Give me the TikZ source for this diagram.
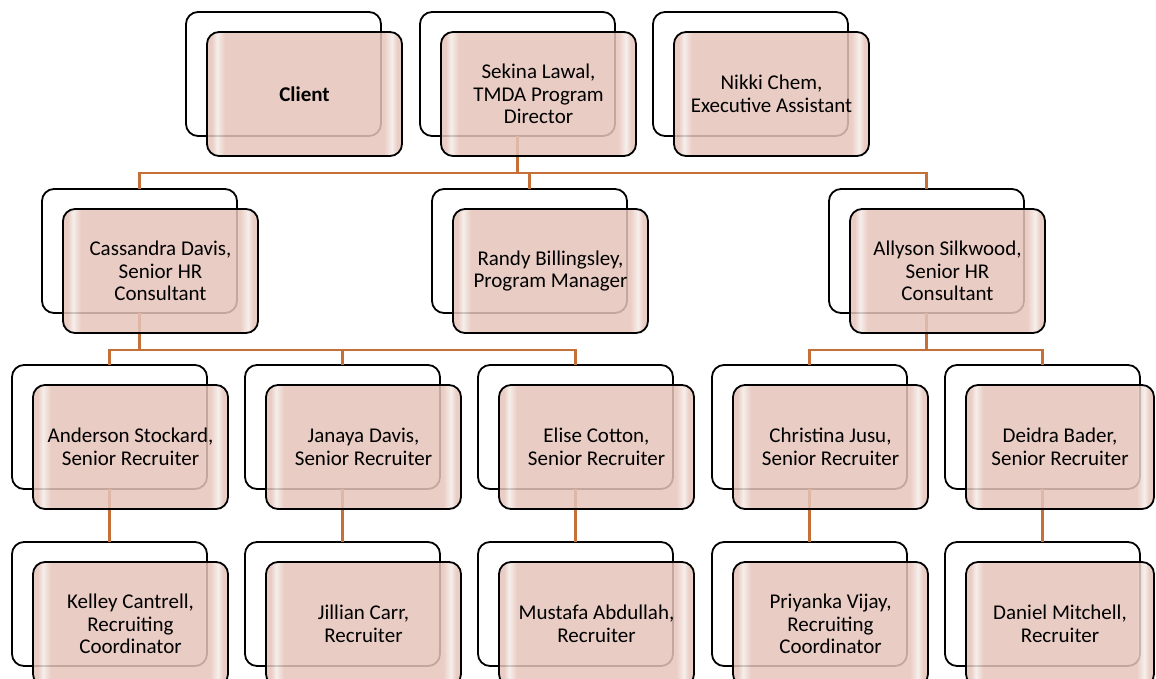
\documentclass[tikz,border=0pt]{standalone}
\usepackage{fontspec}
\setmainfont{Carlito}
\usetikzlibrary{calc}
\definecolor{pk}{RGB}{230,196,186}
\definecolor{pkL}{RGB}{245,236,232}
\definecolor{connc}{RGB}{196,112,56}
\pgfdeclarehorizontalshading{frontshade}{100bp}{color(0bp)=(pk); color(26.2bp)=(pk); color(27.6bp)=(pkL); color(29.6bp)=(pk); color(70.4bp)=(pk); color(72.4bp)=(pkL); color(73.8bp)=(pk); color(100bp)=(pk)}
\begin{document}
\begin{tikzpicture}[x=1pt,y=-1pt,
 backbox/.style={draw=black, line width=1.8pt, fill=white, rounded corners=12pt, minimum width=195pt, minimum height=124pt, inner sep=0pt, outer sep=0pt, anchor=north west},
 frontbox/.style={draw=black, line width=1.8pt, shading=frontshade, fill opacity=0.85, text opacity=1, rounded corners=12pt, minimum width=195pt, minimum height=124pt, inner sep=0pt, outer sep=0pt, align=center, font=\fontsize{21}{22.7}\selectfont, text=black, anchor=north west},
 conn/.style={draw=connc, line width=2.6pt}]
\useasboundingbox (0,0) rectangle (1156,679);
\clip (0,0) rectangle (1156,679);
% back boxes
\node[backbox] (bclient) at (186,12) {};
\node[backbox] (bsekina) at (420,12) {};
\node[backbox] (bnikki) at (653,12) {};
\node[backbox] (bcassandra) at (42,189) {};
\node[backbox] (brandy) at (432,189) {};
\node[backbox] (ballyson) at (829,189) {};
\node[backbox] (banderson) at (12,365) {};
\node[backbox] (bjanaya) at (245,365) {};
\node[backbox] (belise) at (478,365) {};
\node[backbox] (bchristina) at (712,365) {};
\node[backbox] (bdeidra) at (945,365) {};
\node[backbox] (bkelley) at (12,542) {};
\node[backbox] (bjillian) at (245,542) {};
\node[backbox] (bmustafa) at (478,542) {};
\node[backbox] (bpriyanka) at (712,542) {};
\node[backbox] (bdaniel) at (945,542) {};
% connectors
\coordinate (bus1) at (0,173);
\coordinate (bus2) at (0,350);
\draw[conn] (bsekina.south) -- (bsekina.south |- bus1);
\draw[conn] (bcassandra.north) -- (bcassandra.north |- bus1) -- (ballyson.north |- bus1) -- (ballyson.north);
\draw[conn] (brandy.north) -- (brandy.north |- bus1);
\draw[conn] (bcassandra.south) -- (bcassandra.south |- bus2);
\draw[conn] (banderson.north) -- (banderson.north |- bus2) -- (belise.north |- bus2) -- (belise.north);
\draw[conn] (bjanaya.north) -- (bjanaya.north |- bus2);
\draw[conn] (ballyson.south) -- (ballyson.south |- bus2);
\draw[conn] (bchristina.north) -- (bchristina.north |- bus2) -- (bdeidra.north |- bus2) -- (bdeidra.north);
\draw[conn] (banderson.south) -- (bkelley.north);
\draw[conn] (bjanaya.south) -- (bjillian.north);
\draw[conn] (belise.south) -- (bmustafa.north);
\draw[conn] (bchristina.south) -- (bpriyanka.north);
\draw[conn] (bdeidra.south) -- (bdaniel.north);
% front boxes
\node[frontbox] (client) at ($(bclient.north west)+(21,20)$) {\bfseries Client};
\node[frontbox] (sekina) at ($(bsekina.north west)+(21,20)$) {Sekina Lawal,\\TMDA Program\\Director};
\node[frontbox] (nikki) at ($(bnikki.north west)+(21,20)$) {Nikki Chem,\\Executive Assistant};
\node[frontbox] (cassandra) at ($(bcassandra.north west)+(21,20)$) {Cassandra Davis,\\Senior HR\\Consultant};
\node[frontbox] (randy) at ($(brandy.north west)+(21,20)$) {Randy Billingsley,\\Program Manager};
\node[frontbox] (allyson) at ($(ballyson.north west)+(21,20)$) {Allyson Silkwood,\\Senior HR\\Consultant};
\node[frontbox] (anderson) at ($(banderson.north west)+(21,20)$) {Anderson Stockard,\\Senior Recruiter};
\node[frontbox] (janaya) at ($(bjanaya.north west)+(21,20)$) {Janaya Davis,\\Senior Recruiter};
\node[frontbox] (elise) at ($(belise.north west)+(21,20)$) {Elise Cotton,\\Senior Recruiter};
\node[frontbox] (christina) at ($(bchristina.north west)+(21,20)$) {Christina Jusu,\\Senior Recruiter};
\node[frontbox, minimum width=188pt] (deidra) at ($(bdeidra.north west)+(21,20)$) {Deidra Bader,\\Senior Recruiter};
\node[frontbox] (kelley) at ($(bkelley.north west)+(21,20)$) {Kelley Cantrell,\\Recruiting\\Coordinator};
\node[frontbox] (jillian) at ($(bjillian.north west)+(21,20)$) {Jillian Carr,\\Recruiter};
\node[frontbox] (mustafa) at ($(bmustafa.north west)+(21,20)$) {Mustafa Abdullah,\\Recruiter};
\node[frontbox] (priyanka) at ($(bpriyanka.north west)+(21,20)$) {Priyanka Vijay,\\Recruiting\\Coordinator};
\node[frontbox, minimum width=188pt] (daniel) at ($(bdaniel.north west)+(21,20)$) {Daniel Mitchell,\\Recruiter};
\end{tikzpicture}
\end{document}
